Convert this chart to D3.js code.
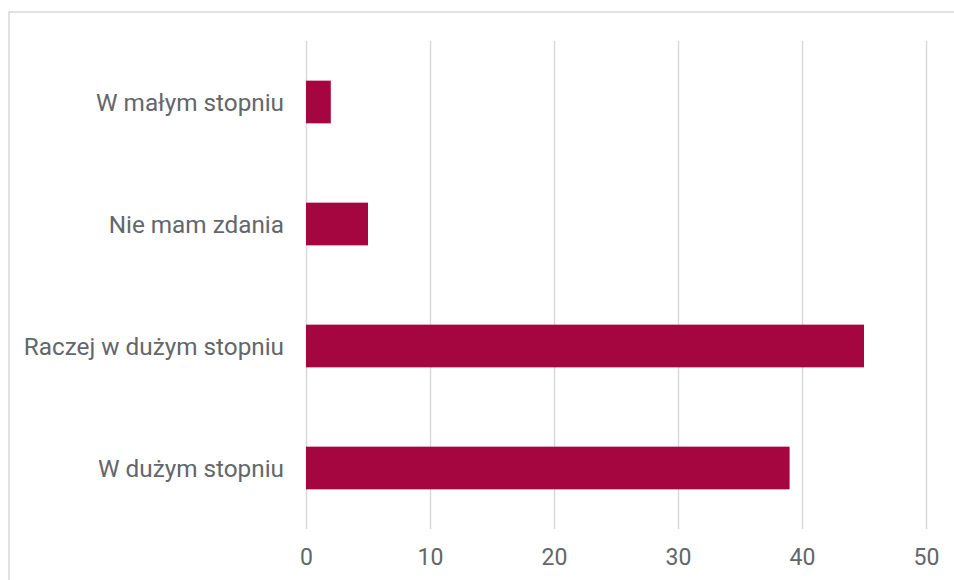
<!DOCTYPE html>
<html><head><meta charset="utf-8">
<script src="https://cdn.jsdelivr.net/npm/d3@7"></script>
<style>body{margin:0;background:#fff;} svg{display:block;}</style>
</head><body>
<svg id="c" width="954" height="580"></svg>
<script>
const categories = ["W małym stopniu", "Nie mam zdania", "Raczej w dużym stopniu", "W dużym stopniu"];
const values = [2, 5, 45, 39];
const tickValues = [0, 10, 20, 30, 40, 50];

const svg = d3.select("#c");
const font = "Roboto, 'Liberation Sans', Arial, sans-serif";
const textColor = "#63666a";
const barColor = "#A50640";
const gridColor = "#d9d9d9";

svg.append("rect").attr("x", 9).attr("y", 12).attr("width", 960).attr("height", 600)
  .attr("fill", "#fff").attr("stroke", gridColor).attr("stroke-width", 1.5);

const x = d3.scaleLinear().domain([0, 50]).range([306, 926]);
const y = d3.scaleBand().domain(categories).range([41, 529]).paddingInner(0.65).paddingOuter(0.325);

const xAxis = d3.axisBottom(x).tickValues(tickValues).tickSize(-(529 - 41)).tickPadding(20);
const gx = svg.append("g").attr("transform", "translate(0,529)").call(xAxis);
gx.select(".domain").remove();
gx.selectAll(".tick line").attr("stroke", gridColor).attr("stroke-width", 1.5);
gx.selectAll(".tick text").attr("fill", textColor).style("font-family", font).style("font-size", "23px");

const yAxis = d3.axisLeft(y).tickSize(0).tickPadding(22);
const gy = svg.append("g").attr("transform", "translate(306,0)").call(yAxis);
gy.select(".domain").remove();
gy.selectAll(".tick text").attr("fill", textColor).style("font-family", font).style("font-size", "24.3px").attr("dy", "0.36em");

svg.append("g").selectAll("rect").data(values).join("rect")
  .attr("x", x(0))
  .attr("y", (d, i) => y(categories[i]))
  .attr("width", d => x(d) - x(0))
  .attr("height", y.bandwidth())
  .attr("fill", barColor);
</script>
</body></html>
